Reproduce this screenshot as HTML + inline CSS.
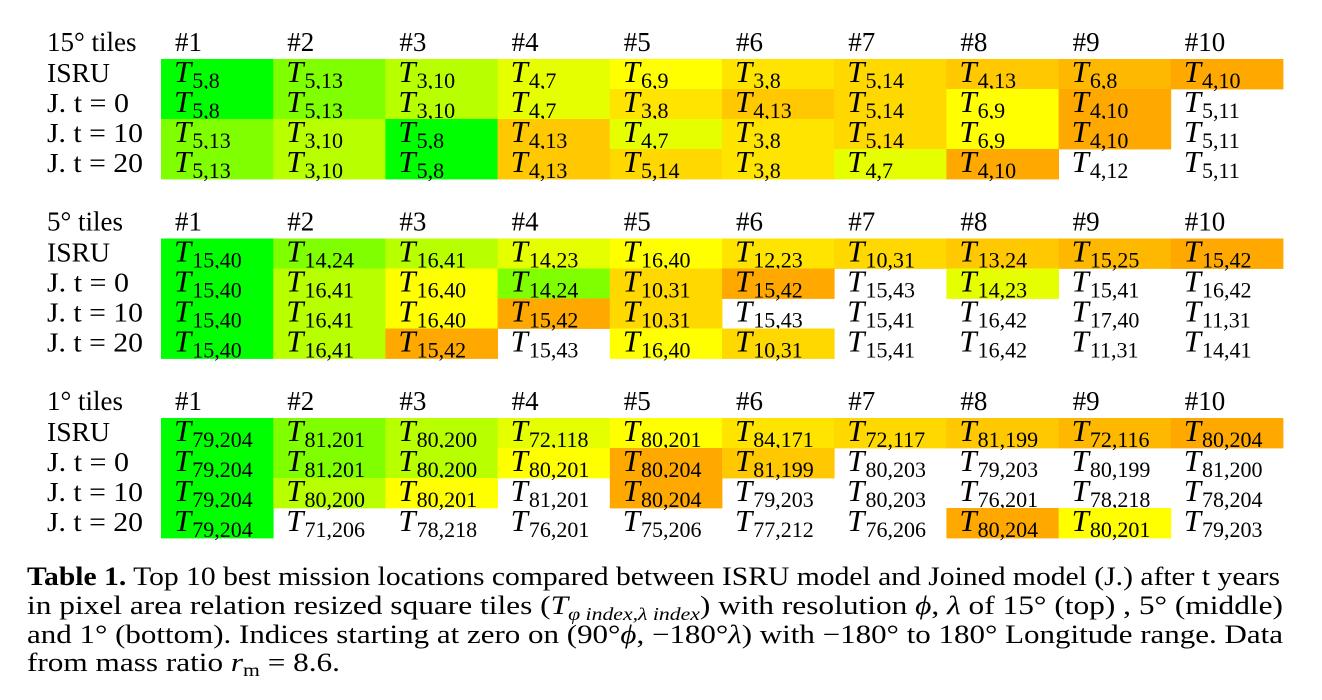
<!DOCTYPE html>
<html><head><meta charset="utf-8"><style>
html,body{margin:0;padding:0;background:#fff;width:1322px;height:700px;overflow:hidden}
svg{display:block;font-family:"Liberation Serif",serif}
</style></head><body>
<svg id="chart" width="1322" height="700" viewBox="0 0 1322 700">
<g id="tables"></g>
<g font-size="26" fill="#000">
<text x="27" y="585" textLength="1253" lengthAdjust="spacingAndGlyphs"><tspan font-weight="bold">Table 1.</tspan> Top 10 best mission locations compared between ISRU model and Joined model (J.) after t years</text>
<text x="27" y="614" textLength="1256" lengthAdjust="spacingAndGlyphs">in pixel area relation resized square tiles (<tspan font-style="italic">T</tspan><tspan font-size="18" dy="6" font-style="italic">φ index,λ index</tspan><tspan dy="-6">) with resolution </tspan><tspan font-style="italic">ϕ</tspan>, <tspan font-style="italic">λ</tspan> of 15° (top) , 5° (middle)</text>
<text x="27" y="643" textLength="1256" lengthAdjust="spacingAndGlyphs">and 1° (bottom). Indices starting at zero on (90°<tspan font-style="italic">ϕ</tspan>, −180°<tspan font-style="italic">λ</tspan>) with −180° to 180° Longitude range. Data</text>
<text x="27" y="671" textLength="313" lengthAdjust="spacingAndGlyphs">from mass ratio <tspan font-style="italic">r</tspan><tspan font-size="18" dy="5">m</tspan><tspan dy="-5"> = 8.6.</tspan></text>
</g>
</svg>
<script>
const tableTitles = ["15° tiles", "5° tiles", "1° tiles"];
const rowLabels = ["ISRU", "J. t = 0", "J. t = 10", "J. t = 20"];
const rankLabels = ["#1","#2","#3","#4","#5","#6","#7","#8","#9","#10"];
const palette = ["#00ff00","#80ff00","#b8ff00","#e6ff00","#ffff00","#ffe400","#ffd800","#ffc800","#ffb800","#ffa800"];
const table15 = [
 ["5,8","5,13","3,10","4,7","6,9","3,8","5,14","4,13","6,8","4,10"],
 ["5,8","5,13","3,10","4,7","3,8","4,13","5,14","6,9","4,10","5,11"],
 ["5,13","3,10","5,8","4,13","4,7","3,8","5,14","6,9","4,10","5,11"],
 ["5,13","3,10","5,8","4,13","5,14","3,8","4,7","4,10","4,12","5,11"]
];
const table5 = [
 ["15,40","14,24","16,41","14,23","16,40","12,23","10,31","13,24","15,25","15,42"],
 ["15,40","16,41","16,40","14,24","10,31","15,42","15,43","14,23","15,41","16,42"],
 ["15,40","16,41","16,40","15,42","10,31","15,43","15,41","16,42","17,40","11,31"],
 ["15,40","16,41","15,42","15,43","16,40","10,31","15,41","16,42","11,31","14,41"]
];
const table1 = [
 ["79,204","81,201","80,200","72,118","80,201","84,171","72,117","81,199","72,116","80,204"],
 ["79,204","81,201","80,200","80,201","80,204","81,199","80,203","79,203","80,199","81,200"],
 ["79,204","80,200","80,201","81,201","80,204","79,203","80,203","76,201","78,218","78,204"],
 ["79,204","71,206","78,218","76,201","75,206","77,212","76,206","80,204","80,201","79,203"]
];
const uncoloredCells = [[2,2,3]];
const tablesData = [table15, table5, table1];
const NS = "http://www.w3.org/2000/svg";
const root = document.getElementById("tables");
const tableTop = t => 59 + t * 179.5;
const colX = c => 161 + c * 112.2;
const rowY = (t, r) => tableTop(t) + r * 30;
function mk(tag, attrs, parent) {
  const e = document.createElementNS(NS, tag);
  for (const k in attrs) e.setAttribute(k, attrs[k]);
  parent.appendChild(e);
  return e;
}
tablesData.forEach((tbl, t) => {
  const g = mk("g", {}, root);
  
  
  const title = mk("text", {x: 47, y: tableTop(t) - 8, "font-size": 27}, g);
  title.textContent = tableTitles[t];
  
  
  rankLabels.forEach((lab, c) => {
    const h = mk("text", {x: colX(c) + 14, y: tableTop(t) - 8, "font-size": 27}, g);
    h.textContent = lab;
    
    
  });
  const isru = tbl[0];
  tbl.forEach((row, r) => {
    const rl = mk("text", {x: 47, y: rowY(t, r) + 23, "font-size": 27, textLength: r === 0 ? 63 : (r === 1 ? 82 : 96), lengthAdjust: "spacingAndGlyphs"}, g);
    rl.textContent = rowLabels[r];
    
    
    row.forEach((val, c) => {
      const idx = isru.indexOf(val);
      const skip = uncoloredCells.some(u => u[0] === t && u[1] === r && u[2] === c);
      if (idx >= 0 && !skip) {
        const rect = mk("rect", {x: colX(c), y: rowY(t, r), width: 112.6, height: 30.4, fill: palette[idx]}, g);
        
        
      }
      const tx = mk("text", {x: colX(c) + 13, y: rowY(t, r) + 23, "font-size": 31}, g);
      
      
      const ts1 = mk("tspan", {"font-style": "italic"}, tx);
      ts1.textContent = "T";
      const ts2 = mk("tspan", {"font-size": 22, dy: 6, dx: 1}, tx);
      ts2.textContent = val;
    });
  });
});
</script>
</body></html>
